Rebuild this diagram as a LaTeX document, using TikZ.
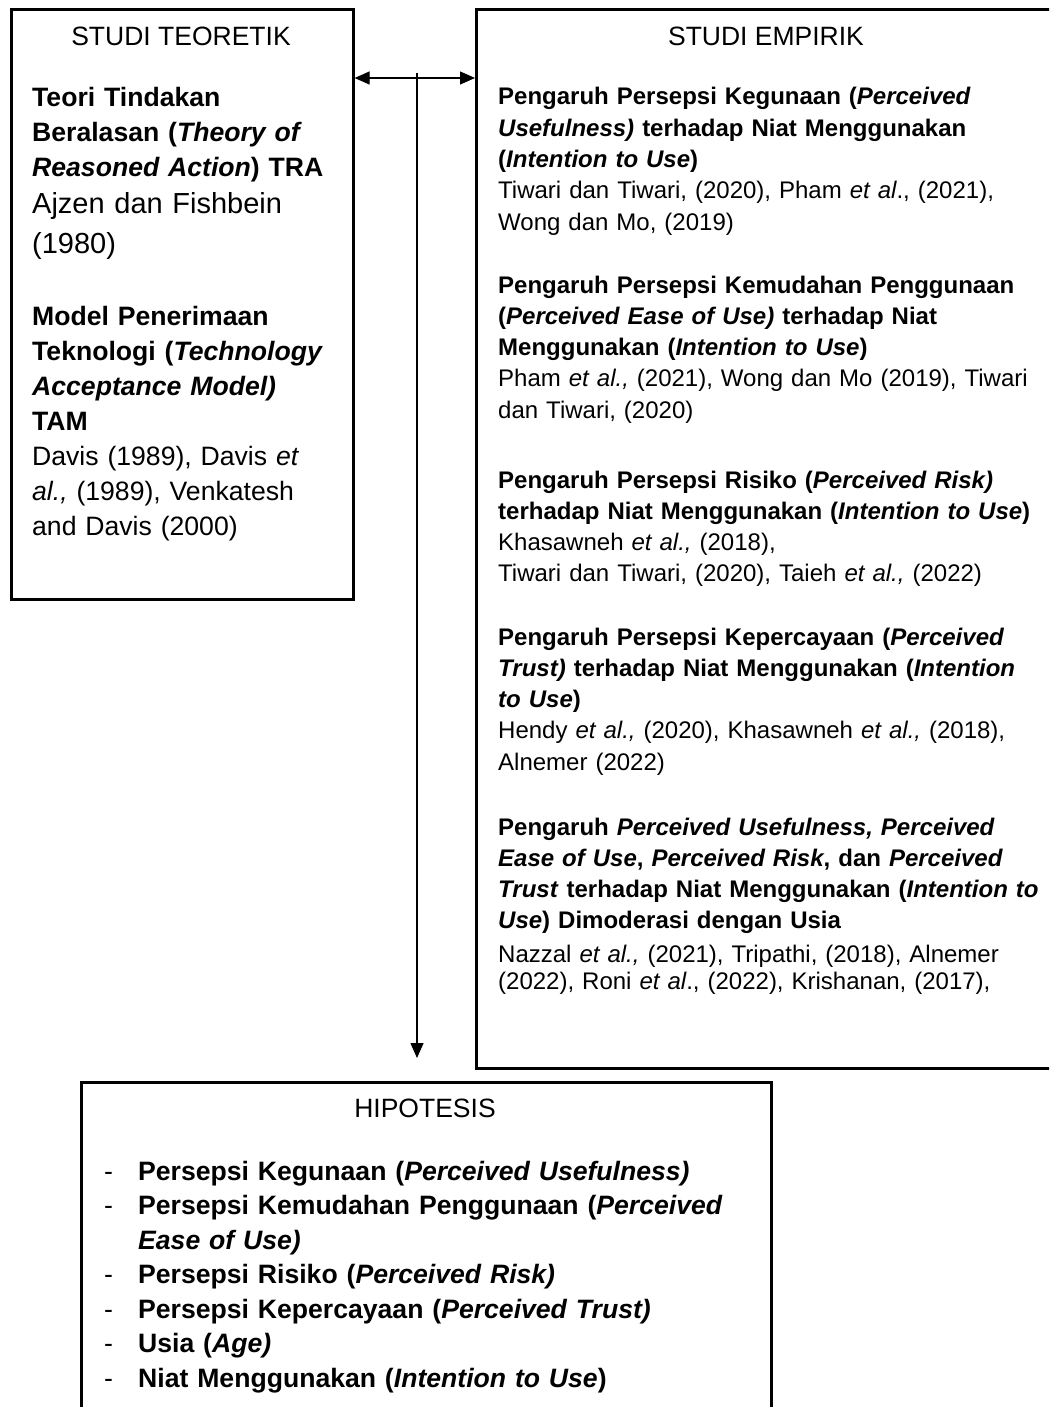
\documentclass[tikz,border=0pt]{standalone}
\usepackage{fontspec}
\setmainfont{Liberation Sans}
\usetikzlibrary{arrows.meta}

\tikzset{
    box/.style={draw, line width=2.6pt, inner sep=0pt, outer sep=1.3pt, anchor=north west},
    heading/.style={anchor=base, inner sep=0pt, font=\fontsize{26.5pt}{32pt}\selectfont},
    textblock/.style={anchor=base west, inner sep=0pt, text width=700pt, align=left},
    bigtext/.style={font=\fontsize{26.6pt}{35pt}\selectfont},
    smalltext/.style={font=\fontsize{24pt}{31.3pt}\selectfont},
    link/.style={line width=1.2pt, -{Triangle[length=15pt, width=13pt]}},
    duallink/.style={line width=1.2pt, {Triangle[length=15pt, width=13pt]}-{Triangle[length=15pt, width=13pt]}},
}

\begin{document}
\begin{tikzpicture}[x=1pt, y=-1pt]

\useasboundingbox (0, 0) rectangle (1049, 1407);
\clip (0, 0) rectangle (1049, 1407);

% Boxes.
\node[box, minimum width=342pt, minimum height=590pt] (teoretik) at (10, 8) {};
\node[box, minimum width=582pt, minimum height=1059pt] (empirik) at (475, 8) {};
\node[box, minimum width=690pt, minimum height=360pt] (hipotesis) at (80, 1081) {};

% Studi teoretik.
\node[heading] (tjudul) at (181, 46) {STUDI TEORETIK};
\node[textblock, bigtext] (tra) at (32, 107) {\textbf{Teori Tindakan}\\
    \textbf{Beralasan (\textit{Theory of}}\\
    \textbf{\textit{Reasoned Action}) TRA}};
\node[textblock, font=\fontsize{29pt}{40pt}\selectfont] (traref) at (32, 213) {Ajzen dan Fishbein\\(1980)};
\node[textblock, bigtext] (tam) at (32, 325) {\textbf{Model Penerimaan}\\
    \textbf{Teknologi (\textit{Technology}}\\
    \textbf{\textit{Acceptance Model)}}\\
    \textbf{TAM}\\
    Davis (1989), Davis \textit{et}\\
    \textit{al.,} (1989), Venkatesh\\
    and Davis (2000)};

% Studi empirik.
\node[heading] (ejudul) at (766, 46) {STUDI EMPIRIK};
\node[textblock, smalltext] (e1) at (498, 105) {\textbf{Pengaruh Persepsi Kegunaan (\textit{Perceived}}\\
    \textbf{\textit{Usefulness)} terhadap Niat Menggunakan}\\
    \textbf{(\textit{Intention to Use})}\\
    Tiwari dan Tiwari, (2020), Pham \textit{et al}., (2021),\\
    Wong dan Mo, (2019)};
\node[textblock, smalltext] (e2) at (498, 293) {\textbf{Pengaruh Persepsi Kemudahan Penggunaan}\\
    \textbf{(\textit{Perceived Ease of Use)} terhadap Niat}\\
    \textbf{Menggunakan (\textit{Intention to Use})}\\
    Pham \textit{et al.,} (2021), Wong dan Mo (2019), Tiwari\\
    dan Tiwari, (2020)};
\node[textblock, smalltext] (e3) at (498, 488) {\textbf{Pengaruh Persepsi Risiko (\textit{Perceived Risk)}}\\
    \textbf{terhadap Niat Menggunakan (\textit{Intention to Use})}\\
    Khasawneh \textit{et al.,} (2018),\\
    Tiwari dan Tiwari, (2020), Taieh \textit{et al.,} (2022)};
\node[textblock, smalltext] (e4) at (498, 645) {\textbf{Pengaruh Persepsi Kepercayaan (\textit{Perceived}}\\
    \textbf{\textit{Trust)} terhadap Niat Menggunakan (\textit{Intention}}\\
    \textbf{\textit{to Use})}\\
    Hendy \textit{et al.,} (2020), Khasawneh \textit{et al.,} (2018),\\
    Alnemer (2022)};
\node[textblock, smalltext] (e5) at (498, 835) {\textbf{Pengaruh \textit{Perceived Usefulness, Perceived}}\\
    \textbf{\textit{Ease of Use}, \textit{Perceived Risk}, dan \textit{Perceived}}\\
    \textbf{\textit{Trust} terhadap Niat Menggunakan (\textit{Intention to}}\\
    \textbf{\textit{Use}) Dimoderasi dengan Usia}};
\node[textblock, font=\fontsize{24pt}{27pt}\selectfont] (e5ref) at (498, 962) {Nazzal \textit{et al.,} (2021), Tripathi, (2018), Alnemer\\
    (2022), Roni \textit{et al}., (2022), Krishanan, (2017),};

% Hipotesis.
\node[heading] (hjudul) at (425, 1117) {HIPOTESIS};
\node[textblock, font=\fontsize{26.6pt}{34.5pt}\selectfont] (hlist) at (104, 1180) {\makebox[34pt][l]{-}\textbf{Persepsi Kegunaan (\textit{Perceived Usefulness)}}\\
    \makebox[34pt][l]{-}\textbf{Persepsi Kemudahan Penggunaan (\textit{Perceived}}\\
    \makebox[34pt][l]{}\textbf{\textit{Ease of Use)}}\\
    \makebox[34pt][l]{-}\textbf{Persepsi Risiko (\textit{Perceived Risk)}}\\
    \makebox[34pt][l]{-}\textbf{Persepsi Kepercayaan (\textit{Perceived Trust)}}\\
    \makebox[34pt][l]{-}\textbf{Usia (\textit{Age)}}\\
    \makebox[34pt][l]{-}\textbf{Niat Menggunakan (\textit{Intention to Use})}};

% Connectors.
\coordinate (split) at (417, 73);
\draw[duallink] ([yshift=-70pt]teoretik.north east) -- ([yshift=-70pt]empirik.north west);
\draw[link, shorten >=23pt] (split) -- (split |- hipotesis.north);

\end{tikzpicture}
\end{document}
